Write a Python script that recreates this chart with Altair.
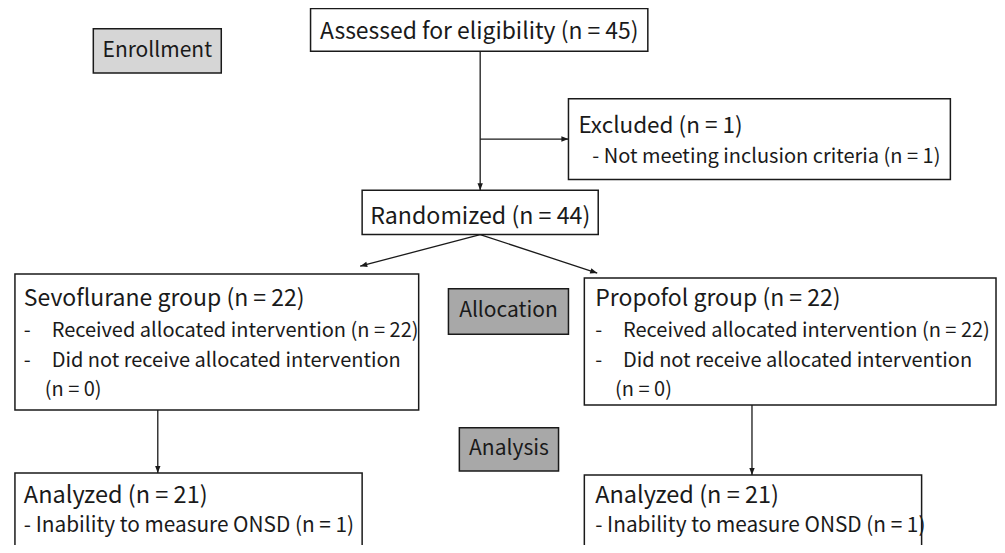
import math
import altair as alt
import pandas as pd

# ---------------- values ----------------
n_assessed = 45
n_excluded = 1
n_not_meeting = 1
n_randomized = 44
group_names = ["Sevoflurane group", "Propofol group"]
n_allocated = [22, 22]
n_received = [22, 22]
n_not_received = [0, 0]
n_analyzed = [21, 21]
n_onsd_fail = [1, 1]
stage_names = ["Enrollment", "Allocation", "Analysis"]

# ---------------- layout (reference pixel frame) ----------------
X0, X1 = 8, 1005
Y0, Y1 = 8, 553
FONT = "Noto Sans CJK KR"
INK = "#1a1a1a"

# flow boxes: x-left, x-right, y-top, y-bottom
box_x1 = [313, 573, 365, 15, 589, 15, 589]
box_x2 = [653, 958, 603, 422, 1004, 365, 929]
box_y1 = [8.5, 100, 193, 278, 282, 480, 482]
box_y2 = [52, 182, 238, 416, 411, 620, 620]

# stage label boxes
stage_x1 = [94, 452, 463]
stage_x2 = [223, 573, 563]
stage_y1 = [29, 293, 434]
stage_y2 = [74, 339, 478]
stage_fill = ["#d6d6d6", "#a8a8a8", "#a8a8a8"]

# connectors (start -> end, arrow at end)
con_x1 = [484, 484, 484, 484, 159, 758]
con_y1 = [52, 141, 238, 238, 416, 411]
con_x2 = [484, 573, 363, 602, 159, 758]
con_y2 = [193, 141, 270, 277, 480, 482]

def nn(v):
    return f"(n = {v})"

TITLE, ITEM = 23, 20
g_x = [24, 600]
g_ind = [52, 628]
g_n0 = [45, 620]

left_text, left_x, left_y, left_size = [], [], [], []

def add(t, x, y, s):
    left_text.append(t); left_x.append(x); left_y.append(y); left_size.append(s)

add(f"Excluded {nn(n_excluded)}", 583, 135, 22.5)
add(f"- Not meeting inclusion criteria {nn(n_not_meeting)}", 597, 165, 20)
for i in range(2):
    add(f"{group_names[i]} {nn(n_allocated[i])}", g_x[i], 310, TITLE)
    add("-", g_x[i], 342, ITEM)
    add(f"Received allocated intervention {nn(n_received[i])}", g_ind[i], 342, ITEM)
    add("-", g_x[i], 372, ITEM)
    add("Did not receive allocated intervention", g_ind[i], 372, ITEM)
    add(nn(n_not_received[i]), g_n0[i], 402, ITEM)
    add(f"Analyzed {nn(n_analyzed[i])}", g_x[i], 510, 23.5)
    add(f"- Inability to measure ONSD {nn(n_onsd_fail[i])}", g_x[i], 540, 20.8)

center_text = [f"Assessed for eligibility {nn(n_assessed)}", f"Randomized {nn(n_randomized)}"]
center_x = [483, 484]
center_y = [39, 227]
center_size = [22.9, 23.2]

# ---------------- frames ----------------
boxes = pd.DataFrame({"x1": box_x1, "x2": box_x2, "y1": box_y1, "y2": box_y2})
stages = pd.DataFrame({"x1": stage_x1, "x2": stage_x2, "y1": stage_y1, "y2": stage_y2,
                       "fill": stage_fill, "label": stage_names,
                       "cx": [(a + b) / 2 for a, b in zip(stage_x1, stage_x2)],
                       "cy": [(a + b) / 2 for a, b in zip(stage_y1, stage_y2)]})
cons = pd.DataFrame({"x1": con_x1, "y1": con_y1, "x2": con_x2, "y2": con_y2})
heads = pd.DataFrame({
    "x": con_x2, "y": con_y2,
    "angle": [(math.degrees(math.atan2(b2 - b1, a2 - a1)) + 90) % 360
              for a1, b1, a2, b2 in zip(con_x1, con_y1, con_x2, con_y2)],
})
ltext = pd.DataFrame({"t": left_text, "x": left_x, "y": left_y, "s": left_size})
ctext = pd.DataFrame({"t": center_text, "x": center_x, "y": center_y, "s": center_size})

xs = alt.Scale(domain=[X0, X1], nice=False, zero=False)
ys = alt.Scale(domain=[Y0, Y1], nice=False, zero=False, reverse=True)

rect_layer = alt.Chart(boxes).mark_rect(fill="white", stroke=INK, strokeWidth=1.5).encode(
    x=alt.X("x1:Q", scale=xs, axis=None), x2="x2:Q",
    y=alt.Y("y1:Q", scale=ys, axis=None), y2="y2:Q")

stage_layer = alt.Chart(stages).mark_rect(stroke=INK, strokeWidth=1.5).encode(
    x=alt.X("x1:Q", scale=xs, axis=None), x2="x2:Q",
    y=alt.Y("y1:Q", scale=ys, axis=None), y2="y2:Q",
    fill=alt.Fill("fill:N", scale=None))

stage_text = alt.Chart(stages).mark_text(font=FONT, fontSize=21, color=INK,
                                         align="center", baseline="middle").encode(
    x=alt.X("cx:Q", scale=xs, axis=None), y=alt.Y("cy:Q", scale=ys, axis=None),
    text="label:N")

con_layer = alt.Chart(cons).mark_rule(color=INK, strokeWidth=1.3).encode(
    x=alt.X("x1:Q", scale=xs, axis=None), x2="x2:Q",
    y=alt.Y("y1:Q", scale=ys, axis=None), y2="y2:Q")

head_layer = alt.Chart(heads).mark_point(shape="M0,0L0.38,1L-0.38,1Z", filled=True,
                                          size=200, color=INK, opacity=1, strokeWidth=0).encode(
    x=alt.X("x:Q", scale=xs, axis=None), y=alt.Y("y:Q", scale=ys, axis=None),
    angle=alt.Angle("angle:Q", scale=None))

ltext_layer = alt.Chart(ltext).mark_text(font=FONT, color=INK, align="left",
                                         baseline="alphabetic").encode(
    x=alt.X("x:Q", scale=xs, axis=None), y=alt.Y("y:Q", scale=ys, axis=None),
    text="t:N", size=alt.Size("s:Q", scale=None))

ctext_layer = alt.Chart(ctext).mark_text(font=FONT, color=INK, align="center",
                                         baseline="alphabetic").encode(
    x=alt.X("x:Q", scale=xs, axis=None), y=alt.Y("y:Q", scale=ys, axis=None),
    text="t:N", size=alt.Size("s:Q", scale=None))

chart = alt.layer(con_layer, rect_layer, stage_layer, head_layer, stage_text,
                  ltext_layer, ctext_layer).properties(
    width=989, height=537, padding=0, autosize=alt.AutoSizeParams(type="none"),
    background="white",
).configure_view(stroke=None)

chart.save("out.html", embed_options={"renderer": "svg", "actions": False})
